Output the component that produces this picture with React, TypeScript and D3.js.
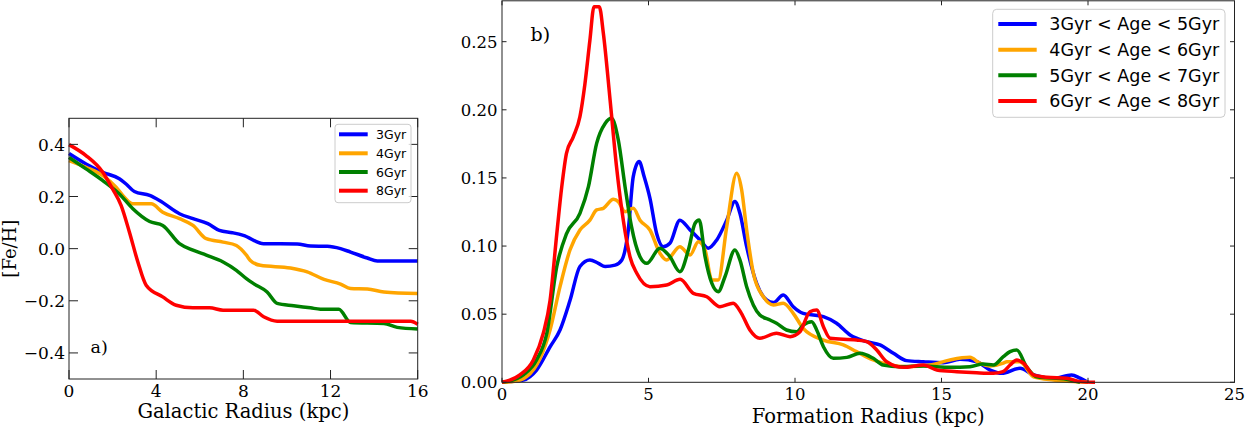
import React from "react";
import * as d3 from "d3";

// ---------- Panel a) data: [Fe/H] vs Galactic radius ----------
const gyr3X = [0, 0.78, 1.55, 2.31, 2.62, 3.0, 3.7, 4.15, 5.07, 5.69, 6.37, 6.9, 7.5, 8.0, 8.93, 10.47, 11.08, 11.85, 12.46, 12.92, 13.69, 14.15, 16];
const gyr3Y = [0.365, 0.325, 0.293, 0.268, 0.248, 0.219, 0.204, 0.185, 0.134, 0.115, 0.096, 0.07, 0.061, 0.051, 0.019, 0.018, 0.01, 0.009, 0.0, -0.013, -0.036, -0.047, -0.047];
const gyr4X = [0, 0.78, 1.55, 2.16, 2.54, 2.93, 3.77, 4.3, 5.07, 5.69, 6.3, 7.07, 7.68, 8.14, 8.32, 8.78, 10.16, 10.93, 11.7, 12.46, 12.92, 13.69, 14.45, 16];
const gyr4Y = [0.338, 0.312, 0.28, 0.236, 0.197, 0.172, 0.172, 0.14, 0.115, 0.089, 0.038, 0.025, 0.012, -0.025, -0.045, -0.064, -0.074, -0.089, -0.118, -0.136, -0.153, -0.155, -0.166, -0.172];
const gyr6X = [0, 0.78, 1.55, 2.31, 2.93, 3.7, 4.3, 5.07, 5.69, 6.3, 7.07, 7.68, 8.14, 8.47, 9.09, 9.55, 10.31, 11.08, 11.54, 12.38, 12.92, 14.45, 15.06, 16];
const gyr6Y = [0.35, 0.306, 0.261, 0.21, 0.153, 0.104, 0.089, 0.019, -0.006, -0.025, -0.051, -0.083, -0.115, -0.134, -0.166, -0.21, -0.219, -0.227, -0.232, -0.232, -0.283, -0.287, -0.302, -0.308];
const gyr8X = [0, 0.78, 1.55, 2.0, 2.39, 2.77, 3.16, 3.54, 4.3, 4.92, 5.69, 6.45, 7.07, 8.47, 8.93, 9.55, 15.68, 16];
const gyr8Y = [0.399, 0.357, 0.293, 0.229, 0.166, 0.064, -0.051, -0.14, -0.185, -0.217, -0.227, -0.227, -0.236, -0.236, -0.261, -0.278, -0.278, -0.29];
const leftLabels = ["3Gyr", "4Gyr", "6Gyr", "8Gyr"];
const leftXTicks = [0, 4, 8, 12, 16];
const leftYTicks = [-0.4, -0.2, 0, 0.2, 0.4];

// ---------- Panel b) data: distribution vs formation radius ----------
const age35X = [0, 0.27, 0.73, 1.18, 1.64, 1.98, 2.32, 2.66, 3.0, 3.29, 3.52, 3.86, 4.09, 4.31, 4.48, 4.68, 4.85, 5.05, 5.28, 5.5, 5.73, 6.07, 6.42, 6.76, 7.04, 7.33, 7.67, 7.95, 8.12, 8.35, 8.69, 9.03, 9.26, 9.6, 9.94, 10.28, 10.97, 11.42, 11.88, 12.45, 12.9, 13.36, 13.81, 14.38, 15.06, 15.63, 16.2, 16.66, 17.05, 17.68, 18.14, 18.82, 19.44, 19.73, 20.0];
const age35Y = [0, 0.0005, 0.0017, 0.009, 0.026, 0.0384, 0.06, 0.085, 0.0898, 0.0873, 0.085, 0.086, 0.0898, 0.1118, 0.151, 0.162, 0.151, 0.135, 0.109, 0.0995, 0.102, 0.119, 0.1118, 0.1045, 0.0984, 0.1045, 0.119, 0.1327, 0.124, 0.0995, 0.0727, 0.0604, 0.0585, 0.0641, 0.0555, 0.0506, 0.0482, 0.0433, 0.0347, 0.0298, 0.0274, 0.0213, 0.0159, 0.0151, 0.0144, 0.0169, 0.0151, 0.009, 0.0066, 0.0103, 0.0054, 0.003, 0.0054, 0.003, 0];
const age46X = [0, 0.39, 0.84, 1.3, 1.64, 1.98, 2.32, 2.66, 3.0, 3.23, 3.46, 3.8, 3.97, 4.2, 4.48, 4.71, 5.05, 5.39, 5.62, 6.07, 6.42, 6.7, 6.93, 7.16, 7.38, 7.67, 8.01, 8.18, 8.35, 8.58, 8.92, 9.26, 9.6, 9.94, 10.28, 10.97, 11.65, 12.1, 12.67, 13.24, 13.81, 14.6, 15.29, 15.97, 16.31, 16.66, 17.11, 17.23, 17.68, 18.14, 18.82, 19.5, 20];
const age46Y = [0, 0.0005, 0.0041, 0.0176, 0.0384, 0.0702, 0.0971, 0.1118, 0.119, 0.1265, 0.1277, 0.1343, 0.1326, 0.1252, 0.1277, 0.119, 0.1118, 0.0947, 0.0898, 0.0995, 0.0934, 0.1032, 0.0971, 0.0751, 0.0751, 0.1142, 0.1534, 0.1411, 0.1118, 0.08, 0.0628, 0.0567, 0.058, 0.0506, 0.0396, 0.031, 0.0274, 0.0225, 0.0164, 0.0127, 0.0115, 0.0127, 0.0164, 0.0183, 0.014, 0.012, 0.014, 0.0151, 0.0151, 0.0041, 0.0017, 0.0005, 0];
const age57X = [0, 0.16, 0.73, 1.18, 1.53, 1.87, 2.2, 2.66, 2.95, 3.23, 3.52, 3.74, 3.97, 4.2, 4.42, 4.71, 4.94, 5.39, 5.73, 6.07, 6.36, 6.59, 6.73, 6.93, 7.16, 7.38, 7.61, 7.95, 8.12, 8.35, 8.8, 9.15, 9.37, 9.71, 10.06, 10.28, 10.57, 10.74, 10.97, 11.31, 11.77, 12.22, 12.67, 13.01, 13.58, 14.38, 15.29, 15.97, 16.42, 16.77, 17.11, 17.34, 17.57, 17.9, 18.25, 19.27, 19.73];
const age57Y = [0, 0.0005, 0.0054, 0.0164, 0.036, 0.085, 0.109, 0.124, 0.1436, 0.1754, 0.19, 0.1938, 0.1778, 0.1436, 0.1142, 0.0922, 0.0873, 0.0984, 0.0922, 0.0812, 0.0971, 0.1167, 0.1191, 0.0922, 0.0727, 0.0665, 0.0775, 0.0971, 0.0898, 0.0702, 0.0494, 0.0457, 0.0433, 0.0384, 0.0371, 0.042, 0.0445, 0.0384, 0.0261, 0.0176, 0.0183, 0.0213, 0.0176, 0.0127, 0.0115, 0.012, 0.011, 0.0115, 0.0134, 0.0127, 0.0188, 0.0225, 0.0237, 0.0115, 0.0041, 0.0022, 0];
const age68X = [0, 0.61, 1.07, 1.41, 1.64, 1.87, 2.04, 2.2, 2.43, 2.66, 2.83, 3.0, 3.14, 3.32, 3.46, 3.69, 3.91, 4.14, 4.37, 4.6, 5.05, 5.62, 6.08, 6.53, 6.99, 7.44, 7.89, 8.17, 8.46, 8.8, 9.37, 9.83, 10.17, 10.51, 10.74, 10.97, 11.2, 12.1, 12.45, 12.79, 13.13, 13.7, 14.38, 14.84, 15.52, 16.2, 16.77, 17.1, 17.34, 17.57, 17.8, 18.14, 18.59, 19.27, 19.73, 20.24];
const age68Y = [0, 0.0054, 0.0164, 0.036, 0.06, 0.109, 0.1436, 0.168, 0.18, 0.195, 0.219, 0.251, 0.2757, 0.2757, 0.256, 0.207, 0.158, 0.119, 0.092, 0.08, 0.0702, 0.0714, 0.0756, 0.0653, 0.0628, 0.0555, 0.058, 0.0506, 0.0384, 0.0323, 0.036, 0.0335, 0.0371, 0.0518, 0.053, 0.0408, 0.0323, 0.031, 0.0298, 0.0237, 0.0151, 0.011, 0.0127, 0.009, 0.0078, 0.007, 0.0066, 0.0078, 0.0127, 0.0164, 0.014, 0.0054, 0.0037, 0.003, 0.0005, 0];
const rightLabels = ["3Gyr < Age < 5Gyr", "4Gyr < Age < 6Gyr", "5Gyr < Age < 7Gyr", "6Gyr < Age < 8Gyr"];
const rightXTicks = [0, 5, 10, 15, 20, 25];
const rightYTicks = [0, 0.05, 0.1, 0.15, 0.2, 0.25];

const colors = ["#0000ff", "#ffa500", "#008000", "#ff0000"];

const SERIF = "'DejaVu Serif', serif";
const SANS = "'DejaVu Sans', sans-serif";

const zip = (xs: number[], ys: number[]) => xs.map((x, i) => [x, ys[i]] as [number, number]);

export default function App() {
  const W = 1246, H = 430;
  // panel a
  const xL = d3.scaleLinear().domain([0, 16]).range([69, 417.7]);
  const yL = d3.scaleLinear().domain([-0.5, 0.5]).range([379, 118.3]);
  // panel b
  const xR = d3.scaleLinear().domain([0, 25]).range([502, 1234.5]);
  const yR = d3.scaleLinear().domain([0, 0.28]).range([382.3, 0.8]);

  const lineL = d3.line<[number, number]>().x(d => xL(d[0])).y(d => yL(d[1])).curve(d3.curveMonotoneX);
  const lineR = d3.line<[number, number]>().x(d => xR(d[0])).y(d => yR(d[1])).curve(d3.curveMonotoneX);

  const leftSeries = [zip(gyr3X, gyr3Y), zip(gyr4X, gyr4Y), zip(gyr6X, gyr6Y), zip(gyr8X, gyr8Y)];
  const rightSeries = [zip(age35X, age35Y), zip(age46X, age46Y), zip(age57X, age57Y), zip(age68X, age68Y)];

  const fmtL = (v: number) => (v < 0 ? "\u2212" : "") + Math.abs(v).toFixed(1);
  const fmtR = (v: number) => v.toFixed(2);

  const [lx0, lx1] = xL.range();
  const [ly0, ly1] = yL.range();
  const [rx0, rx1] = xR.range();
  const [ry0, ry1] = yR.range();
  const axisColor = "#222";
  const tL = 9, tR = 4.5;

  const leftLegendY = [134.3, 153.3, 172, 190.7];
  const rightLegendY = [24, 49.7, 75.3, 101];

  return (
    <svg width={W} height={H} style={{ position: "absolute", left: 0, top: 0, background: "#fff" }}>
      {/* ---------- Panel a ---------- */}
      <g>
        {leftSeries.map((s, i) => (
          <path key={i} d={lineL(s) || ""} fill="none" stroke={colors[i]} strokeWidth={3.5} strokeLinejoin="round" />
        ))}
        <rect x={lx0} y={ly1} width={lx1 - lx0} height={ly0 - ly1} fill="none" stroke={axisColor} strokeWidth={1} />
        {leftXTicks.map(t => (
          <g key={"lx" + t}>
            <line x1={xL(t)} x2={xL(t)} y1={ly0} y2={ly0 - tL} stroke={axisColor} strokeWidth={1} />
            <line x1={xL(t)} x2={xL(t)} y1={ly1} y2={ly1 + tL} stroke={axisColor} strokeWidth={1} />
            <text x={xL(t)} y={396.6} textAnchor="middle" fontFamily={SERIF} fontSize={17}>{t}</text>
          </g>
        ))}
        {leftYTicks.map(t => (
          <g key={"ly" + t}>
            <line x1={lx0} x2={lx0 + tL} y1={yL(t)} y2={yL(t)} stroke={axisColor} strokeWidth={1} />
            <line x1={lx1} x2={lx1 - tL} y1={yL(t)} y2={yL(t)} stroke={axisColor} strokeWidth={1} />
            <text x={lx0 - 4} y={yL(t) + 6.2} textAnchor="end" fontFamily={SERIF} fontSize={17}>{fmtL(t)}</text>
          </g>
        ))}
        <text x={(lx0 + lx1) / 2} y={418.3} textAnchor="middle" fontFamily={SERIF} fontSize={19.5}>Galactic Radius (kpc)</text>
        <text transform={`translate(16,${(ly0 + ly1) / 2}) rotate(-90)`} textAnchor="middle" fontFamily={SERIF} fontSize={18}>[Fe/H]</text>
        <text x={90.5} y={353.3} fontFamily={SERIF} fontSize={17.5}>a)</text>
        {/* legend a */}
        <rect x={335} y={124.3} width={76} height={78.4} rx={3} fill="#fff" fillOpacity={0.8} stroke="#cccccc" strokeWidth={1} />
        {leftLabels.map((lab, i) => (
          <g key={"ll" + i}>
            <line x1={339} x2={367.7} y1={leftLegendY[i]} y2={leftLegendY[i]} stroke={colors[i]} strokeWidth={4} />
            <text x={376} y={leftLegendY[i] + 4.5} fontFamily={SANS} fontSize={12.5}>{lab}</text>
          </g>
        ))}
      </g>

      {/* ---------- Panel b ---------- */}
      <g>
        {rightSeries.map((s, i) => (
          <path key={i} d={lineR(s) || ""} fill="none" stroke={colors[i]} strokeWidth={3.5} strokeLinejoin="round" />
        ))}
        <rect x={rx0} y={ry1} width={rx1 - rx0} height={ry0 - ry1} fill="none" stroke={axisColor} strokeWidth={1} />
        {rightXTicks.map(t => (
          <g key={"rx" + t}>
            <line x1={xR(t)} x2={xR(t)} y1={ry0} y2={ry0 - tR} stroke={axisColor} strokeWidth={1} />
            <line x1={xR(t)} x2={xR(t)} y1={ry1} y2={ry1 + tR} stroke={axisColor} strokeWidth={1} />
            <text x={xR(t)} y={400} textAnchor="middle" fontFamily={SERIF} fontSize={16.5}>{t}</text>
          </g>
        ))}
        {rightYTicks.map(t => (
          <g key={"ry" + t}>
            <line x1={rx0} x2={rx0 + tR} y1={yR(t)} y2={yR(t)} stroke={axisColor} strokeWidth={1} />
            <line x1={rx1} x2={rx1 - tR} y1={yR(t)} y2={yR(t)} stroke={axisColor} strokeWidth={1} />
            <text x={rx0 - 4.5} y={yR(t) + 6} textAnchor="end" fontFamily={SERIF} fontSize={16.5}>{fmtR(t)}</text>
          </g>
        ))}
        <text x={(rx0 + rx1) / 2} y={422.5} textAnchor="middle" fontFamily={SERIF} fontSize={19.5}>Formation Radius (kpc)</text>
        <text x={530.5} y={41} fontFamily={SERIF} fontSize={19}>b)</text>
        {/* legend b */}
        <rect x={992.7} y={9.3} width={232.3} height={108} rx={4} fill="#fff" fillOpacity={0.8} stroke="#cccccc" strokeWidth={1} />
        {rightLabels.map((lab, i) => (
          <g key={"rl" + i}>
            <line x1={998.3} x2={1036.7} y1={rightLegendY[i]} y2={rightLegendY[i]} stroke={colors[i]} strokeWidth={4} />
            <text x={1049.3} y={rightLegendY[i] + 6.3} fontFamily={SANS} fontSize={17.5}>{lab}</text>
          </g>
        ))}
      </g>
    </svg>
  );
}
